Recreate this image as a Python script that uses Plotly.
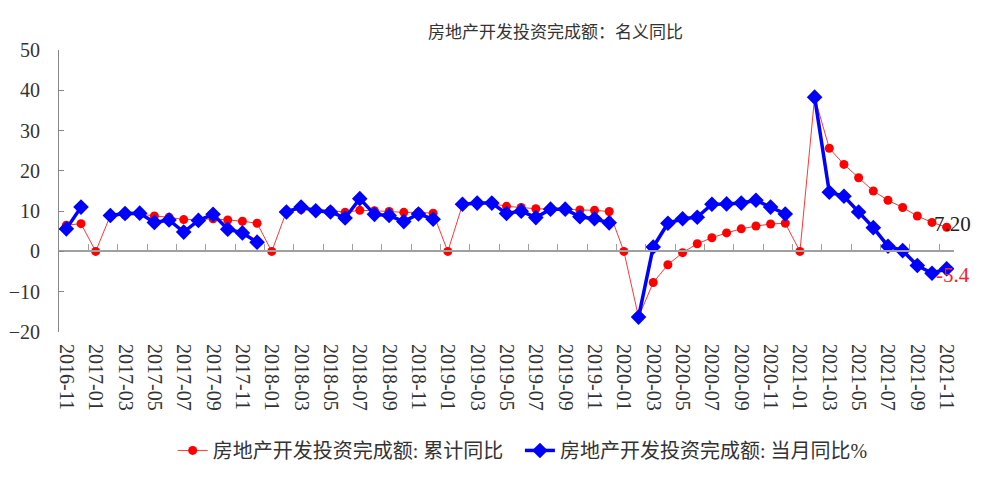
import numpy as np
import plotly.graph_objects as go

# ---- data ----
years_months = [(2016, 11), (2016, 12)] + [(y, m) for y in range(2017, 2021) for m in range(1, 13)] + [(2021, m) for m in range(1, 12)]
categories = [f"{y}-{m:02d}" for y, m in years_months]

cum_yoy = [6.5, 6.9,
           0, 8.9, 9.0, 9.3, 8.8, 8.5, 7.9, 7.9, 8.1, 7.8, 7.5, 7.0,
           0, 9.9, 10.4, 10.3, 10.2, 9.7, 10.2, 10.1, 9.9, 9.7, 9.7, 9.5,
           0, 11.6, 11.8, 11.9, 11.2, 10.9, 10.6, 10.5, 10.5, 10.3, 10.2, 9.9,
           0, -16.3, -7.7, -3.3, -0.3, 1.9, 3.4, 4.6, 5.6, 6.3, 6.8, 7.0,
           0, 38.3, 25.6, 21.6, 18.3, 15.0, 12.7, 10.9, 8.8, 7.2, 6.0]

month_yoy = [5.6, 11.0,
             None, 8.9, 9.4, 9.5, 7.2, 7.8, 4.8, 7.7, 9.2, 5.5, 4.6, 2.3,
             None, 9.8, 11.0, 10.1, 9.8, 8.3, 13.1, 9.2, 8.9, 7.4, 9.3, 8.0,
             None, 11.7, 12.0, 12.0, 9.4, 10.0, 8.4, 10.5, 10.5, 8.6, 8.1, 7.1,
             None, -16.3, 1.1, 7.0, 8.1, 8.5, 11.7, 11.8, 12.0, 12.7, 11.0, 9.3,
             None, 38.3, 14.7, 13.7, 9.8, 5.9, 1.3, 0.2, -3.5, -5.4, -4.3]

tick_labels = categories[::2]
y_ticks = [-20, -10, 0, 10, 20, 30, 40, 50]

title_text = "房地产开发投资完成额：名义同比"
name_cum = "房地产开发投资完成额: 累计同比"
name_month = "房地产开发投资完成额: 当月同比%"
label_cat = "2021-10"
label_cum = "7.20"
label_month = "-5.4"

SERIF = "Liberation Serif, Noto Sans CJK SC"
GRAY = "#a0a0a0"

fig = go.Figure()
fig.add_trace(go.Scatter(
    x=categories, y=cum_yoy, name=name_cum, mode="lines+markers",
    line=dict(color="#ff3838", width=1),
    marker=dict(color="#ff0000", size=9, symbol="circle"),
    legend="legend",
))
fig.add_trace(go.Scatter(
    x=categories, y=month_yoy, name=name_month, mode="lines+markers",
    connectgaps=False,
    line=dict(color="#0000ff", width=3.5),
    marker=dict(color="#0000ff", size=12, symbol="diamond"),
    legend="legend2",
))
# invisible helper trace for the zero-line axis
fig.add_trace(go.Scatter(x=[0], y=[None], xaxis="x2", showlegend=False,
                         hoverinfo="skip", mode="lines"))

n = len(categories)
legend_common = dict(orientation="h", xanchor="left", y=-0.42, yanchor="middle",
                     font=dict(family=SERIF, size=20, color="#333333"),
                     bgcolor="rgba(0,0,0,0)", itemwidth=30)
fig.update_layout(
    width=994, height=488,
    margin=dict(l=51, r=48, t=42, b=164, autoexpand=False),
    paper_bgcolor="white", plot_bgcolor="white",
    showlegend=True,
    legend=dict(x=0.127, **legend_common),
    legend2=dict(x=0.515, **legend_common),
    xaxis=dict(type="category", categoryarray=categories, range=[-0.5, n - 0.5],
               tickmode="array", tickvals=tick_labels, ticktext=tick_labels,
               tickangle=90, ticks="", showline=False, showgrid=False, zeroline=False,
               tickfont=dict(family=SERIF, size=20, color="#333333"),
               ticklabelstandoff=11, automargin=False),
    xaxis2=dict(overlaying="x", anchor="free", position=20 / 70, side="bottom",
                range=[-0.5, n - 0.5], tickmode="array",
                tickvals=list(np.arange(1.5, n, 2)), showticklabels=False,
                ticks="inside", ticklen=6, tickcolor=GRAY, tickwidth=1,
                showline=True, linecolor=GRAY, linewidth=2, showgrid=False, zeroline=False,
                automargin=False),
    yaxis=dict(range=[-20, 50], tickvals=y_ticks, showgrid=False, zeroline=False,
               showline=True, linecolor="#888888", linewidth=1,
               ticks="inside", ticklen=5, tickcolor="#888888",
               tickfont=dict(family=SERIF, size=20, color="#333333"),
               ticklabelstandoff=14, automargin=False),
    annotations=[
        dict(text=title_text, xref="paper", yref="paper", x=0.555, y=1.0, yshift=20,
             xanchor="center", yanchor="middle", showarrow=False,
             font=dict(family="Noto Sans CJK SC", size=17, color="#333333")),
        dict(text=label_cum, x=label_cat, y=cum_yoy[categories.index(label_cat)],
             xanchor="left", yanchor="middle", showarrow=False, yshift=-2,
             font=dict(family="Liberation Serif", size=21, color="#222222")),
        dict(text=label_month, x=label_cat, y=month_yoy[categories.index(label_cat)],
             xanchor="left", yanchor="middle", showarrow=False, xshift=2, yshift=-2,
             font=dict(family="Liberation Serif", size=21, color="#ff2020")),
    ],
)

fig.write_html("out.html")
